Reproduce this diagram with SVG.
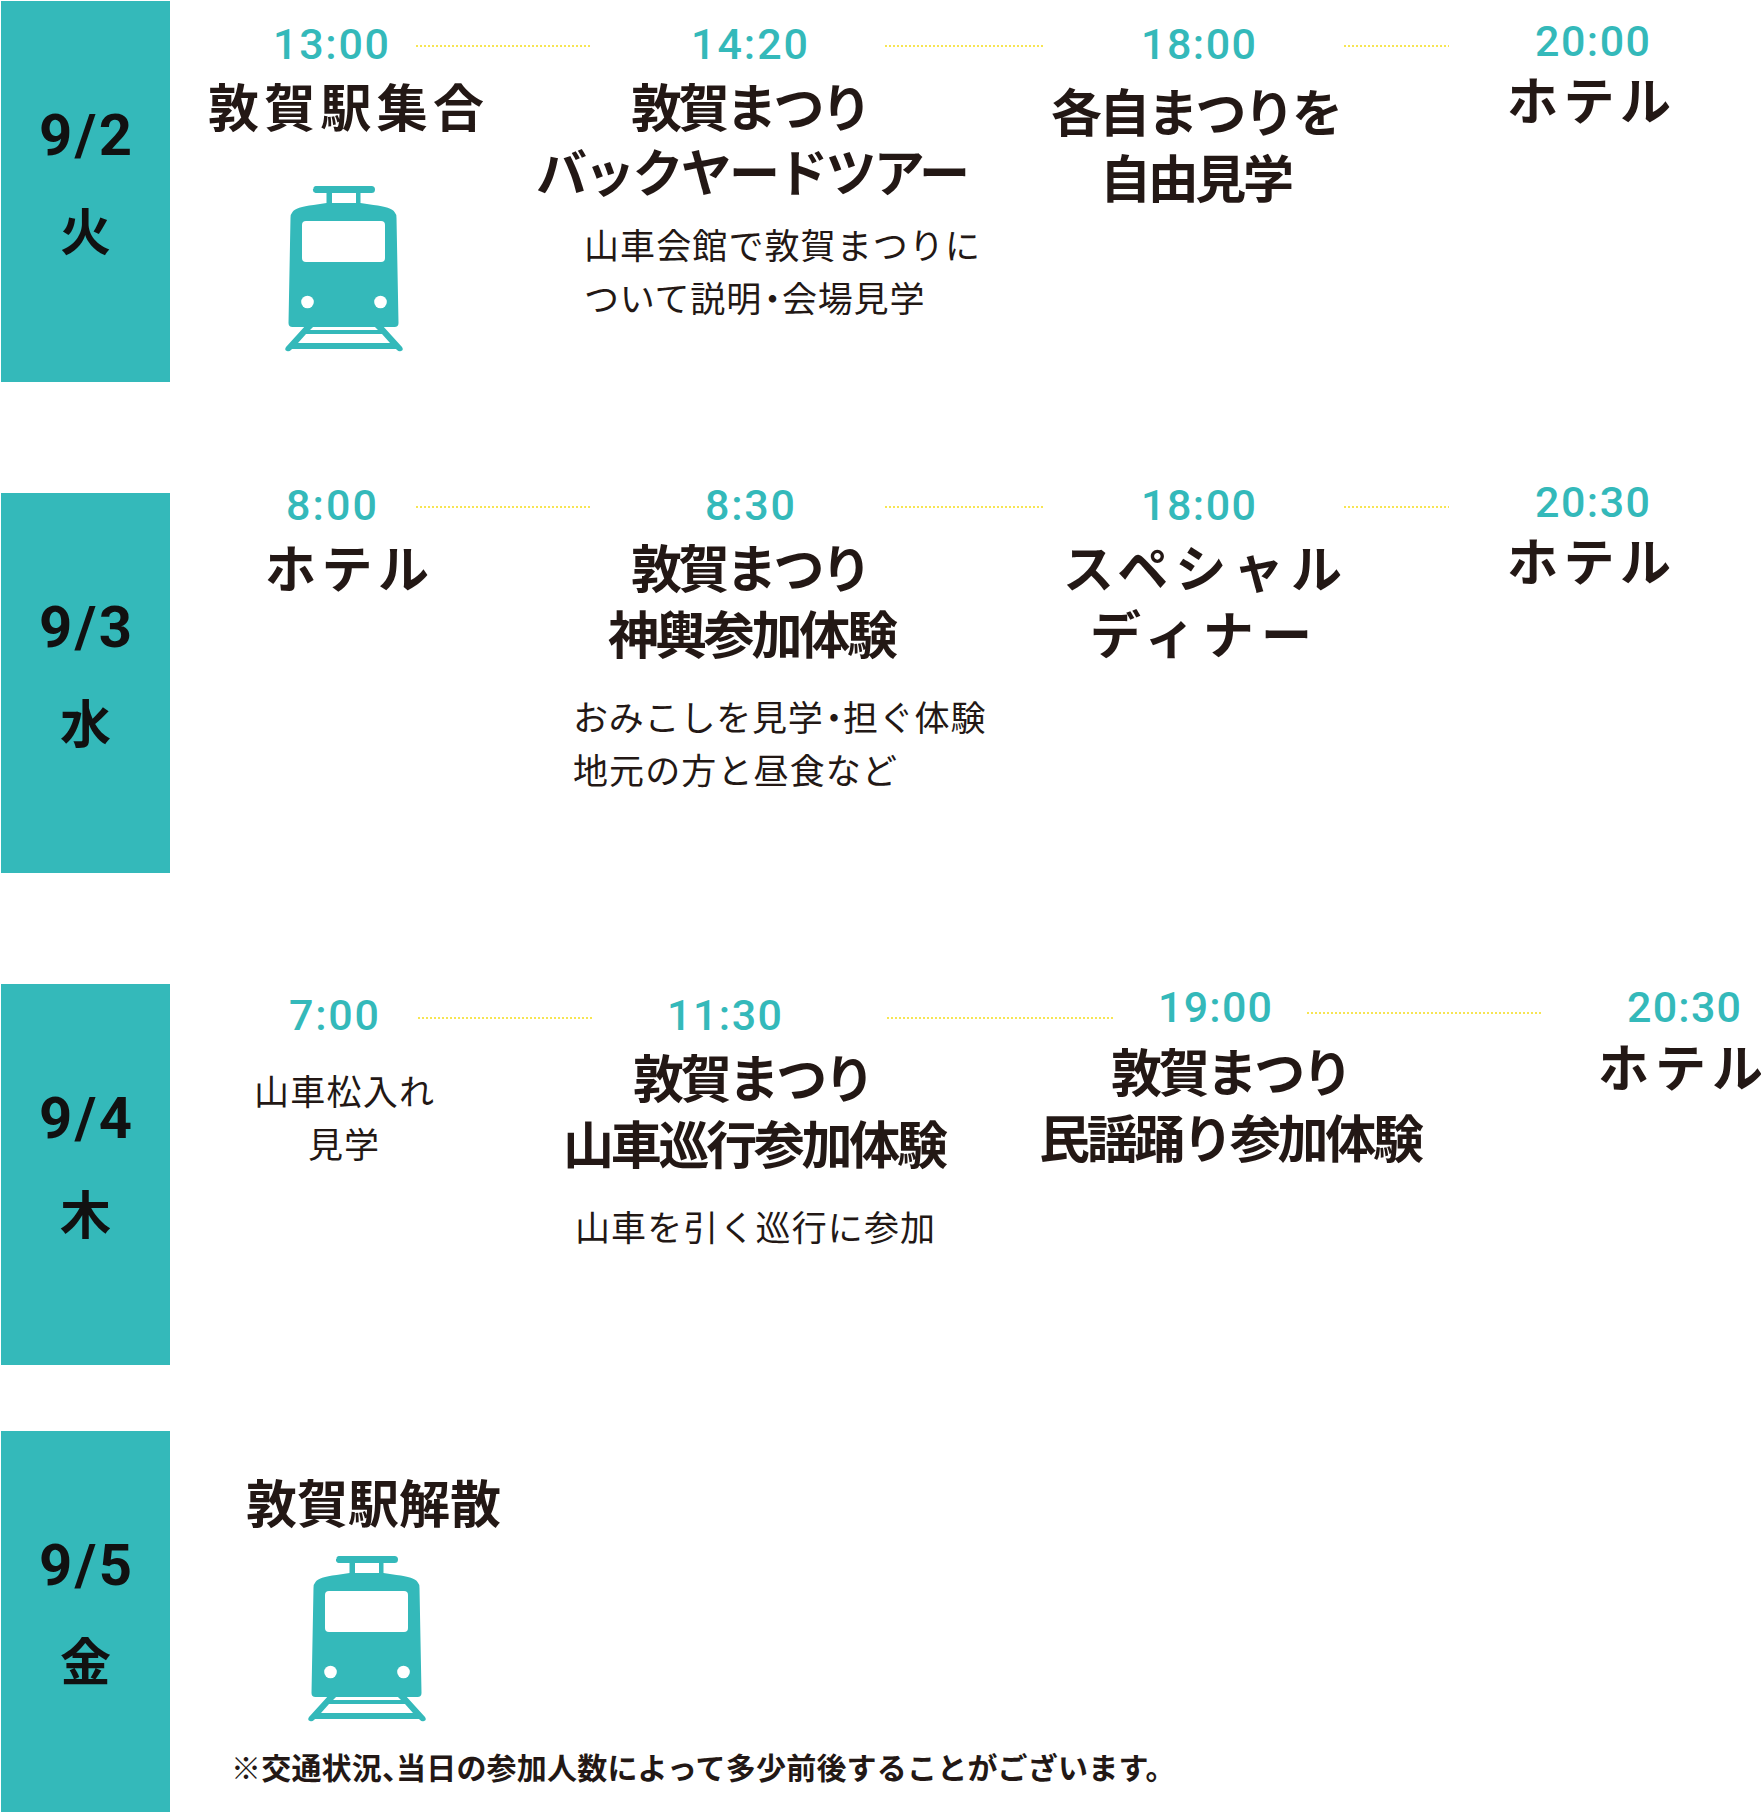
<svg xmlns="http://www.w3.org/2000/svg" width="1761" height="1812" viewBox="0 0 1761 1812">
<style>
text{font-family:"Noto Sans CJK JP","Noto Sans",sans-serif;fill:#231815}
.d{font-family:"Roboto","Noto Sans CJK JP",sans-serif;font-size:58px;font-weight:700;fill:#111}
.w{font-size:51px;font-weight:700;fill:#111}
.t{font-family:"Roboto",sans-serif;font-size:43px;font-weight:500;fill:#34b9ba}
.h{font-size:51px;font-weight:700}
.s{font-size:35px;font-weight:400}
.p{letter-spacing:.8px}
.n{font-size:30px;font-weight:700;letter-spacing:.2px}
.b{fill:#34b9ba}
.c{stroke:#f7e552;stroke-width:2;stroke-dasharray:2 2;fill:none}
</style>
<defs>
<g id="train">
<path class="b" d="M313.500 189a2.500 2.500 0 0 1 3-3h55a3.500 3.500 0 0 1 0 7h-11v10l13 2q18 2 21 7q2 2 2 6l2 105q0 4-4 4h-102q-4 0-4-4l2-105q0-4 2-6q3-5 21-7l13-2v-10h-11a3.500 3.500 0 0 1-2.500-4zM332 193v10h24v-10z" fill-rule="evenodd"/>
<rect x="302" y="221" width="83" height="41" rx="4" fill="#fff"/>
<circle cx="307.500" cy="302" r="6.300" fill="#fff"/>
<circle cx="380.500" cy="302" r="6.300" fill="#fff"/>
<path class="b" d="M306 325h9l-5 5h68l-5-5h9l20 22q2 3-1 4-2 1-4-1l-1-1h-104l-1 1q-2 2-4 1-3-1-1-4zM306 334l-8 9h92l-8-9z" fill-rule="evenodd"/>
</g>
</defs>
<g id="connectors">
<path class="c" d="M416 46H590M885 46H1043M1344 46H1449"/>
<path class="c" d="M416 507H590M885 507H1043M1344 507H1449"/>
<path class="c" d="M418 1018H594M887 1018H1114M1307 1013H1541"/>
</g>
<g id="day-0902"><rect class="b" x="1" y="1" width="169" height="381"/><text class="d" x="39" y="155" textLength="93">9/2</text><text class="w" x="60" y="251">火</text></g>
<g id="day-0903"><rect class="b" x="1" y="493" width="169" height="380"/><text class="d" x="39" y="647" textLength="93">9/3</text><text class="w" x="60" y="743">水</text></g>
<g id="day-0904"><rect class="b" x="1" y="984" width="169" height="381"/><text class="d" x="39" y="1138" textLength="93">9/4</text><text class="w" x="60" y="1234">木</text></g>
<g id="day-0905"><rect class="b" x="1" y="1431" width="169" height="381"/><text class="d" x="39" y="1585" textLength="93">9/5</text><text class="w" x="60" y="1681">金</text></g>

<g id="n1"><text class="t" x="273" y="59" textLength="116">13:00</text><text class="h" x="208" y="127" textLength="276">敦賀駅集合</text><use href="#train"/></g>
<g id="n2"><text class="t" x="691" y="59" textLength="117">14:20</text><text class="h" x="631" y="127" textLength="241">敦賀まつり</text><text class="h" x="536" y="192" textLength="434">バックヤードツアー</text><text class="s" x="584" y="259" textLength="396">山車会館で敦賀まつりに</text><text class="s p" x="584" y="312">ついて説明<tspan x="755">・</tspan><tspan x="782">会場見学</tspan></text></g>
<g id="n3"><text class="t" x="1141" y="59" textLength="115">18:00</text><text class="h" x="1051" y="132" textLength="292">各自まつりを</text><text class="h" x="1100" y="198" textLength="194">自由見学</text></g>
<g id="n4"><text class="t" x="1535" y="56" textLength="115">20:00</text><text class="h" x="1507" y="120" textLength="164">ホテル</text></g>

<g id="n5"><text class="t" x="286" y="520" textLength="91">8:00</text><text class="h" x="265" y="588" textLength="164">ホテル</text></g>
<g id="n6"><text class="t" x="705" y="520" textLength="90">8:30</text><text class="h" x="631" y="588" textLength="241">敦賀まつり</text><text class="h" x="608" y="654" textLength="290">神輿参加体験</text><text class="s p" x="573" y="731">おみこしを見学<tspan x="816.500">・</tspan><tspan x="843">担ぐ体験</tspan></text><text class="s" x="573" y="784" textLength="324">地元の方と昼食など</text></g>
<g id="n7"><text class="t" x="1141" y="520" textLength="115">18:00</text><text class="h" x="1063" y="588" textLength="279">スペシャル</text><text class="h" x="1090" y="654" textLength="222">ディナー</text></g>
<g id="n8"><text class="t" x="1535" y="517" textLength="115">20:30</text><text class="h" x="1507" y="581" textLength="164">ホテル</text></g>

<g id="n9"><text class="t" x="289" y="1030" textLength="90">7:00</text><text class="s" x="254" y="1105" textLength="180">山車松入れ</text><text class="s" x="308" y="1158" textLength="71">見学</text></g>
<g id="n10"><text class="t" x="667" y="1030" textLength="115">11:30</text><text class="h" x="633" y="1098" textLength="242">敦賀まつり</text><text class="h" x="563" y="1164" textLength="385">山車巡行参加体験</text><text class="s" x="575" y="1241" textLength="360">山車を引く巡行に参加</text></g>
<g id="n11"><text class="t" x="1158" y="1022" textLength="114">19:00</text><text class="h" x="1111" y="1092" textLength="242">敦賀まつり</text><text class="h" x="1039" y="1158" textLength="385">民謡踊り参加体験</text></g>
<g id="n12"><text class="t" x="1627" y="1022" textLength="114">20:30</text><text class="h" x="1598" y="1087" textLength="165">ホテル</text></g>

<g id="n13"><text class="h" x="246" y="1523" textLength="255">敦賀駅解散</text><use href="#train" transform="translate(23 1370)"/></g>
<text id="note" class="n" x="231" y="1779">※交通状況、<tspan x="396">当日の参加人数によって多少前後することがございます。</tspan></text>
</svg>
